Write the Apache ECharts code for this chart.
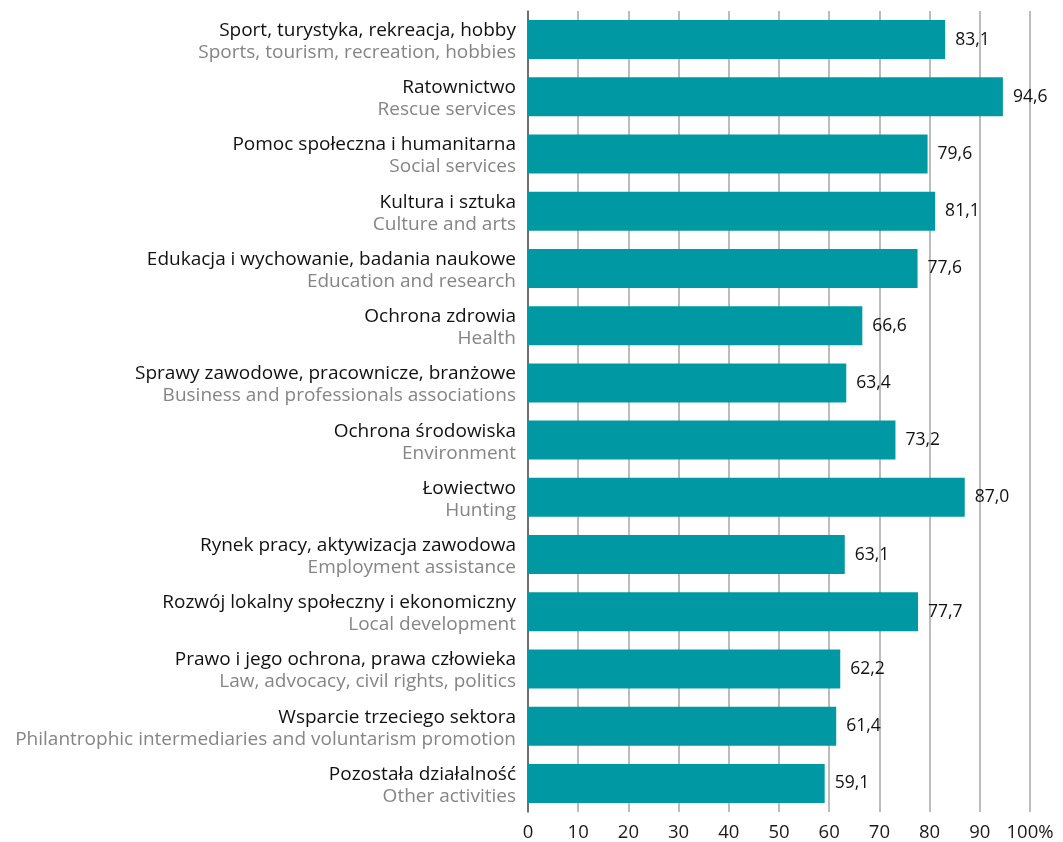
<!DOCTYPE html>
<html>
<head>
<meta charset="utf-8">
<script src="https://cdn.jsdelivr.net/npm/echarts@6/dist/echarts.min.js"></script>
<style>
  html, body { margin: 0; padding: 0; background: #fff; }
  #main { width: 1063px; height: 842px; }
</style>
</head>
<body>
<div id="main"></div>
<script>
// nazwy polskie (górna linia etykiety)
const namesPl = [
  'Sport, turystyka, rekreacja, hobby',
  'Ratownictwo',
  'Pomoc społeczna i humanitarna',
  'Kultura i sztuka',
  'Edukacja i wychowanie, badania naukowe',
  'Ochrona zdrowia',
  'Sprawy zawodowe, pracownicze, branżowe',
  'Ochrona środowiska',
  'Łowiectwo',
  'Rynek pracy, aktywizacja zawodowa',
  'Rozwój lokalny społeczny i ekonomiczny',
  'Prawo i jego ochrona, prawa człowieka',
  'Wsparcie trzeciego sektora',
  'Pozostała działalność'
];
// nazwy angielskie (dolna linia, szara)
const namesEn = [
  'Sports, tourism, recreation, hobbies',
  'Rescue services',
  'Social services',
  'Culture and arts',
  'Education and research',
  'Health',
  'Business and professionals associations',
  'Environment',
  'Hunting',
  'Employment assistance',
  'Local development',
  'Law, advocacy, civil rights, politics',
  'Philantrophic intermediaries and voluntarism promotion',
  'Other activities'
];
const values = [83.1, 94.6, 79.6, 81.1, 77.6, 66.6, 63.4, 73.2, 87.0, 63.1, 77.7, 62.2, 61.4, 59.1];
const xTicks = ['0', '10', '20', '30', '40', '50', '60', '70', '80', '90', '100%'];

const font = '"Open Sans", "Noto Sans", sans-serif';
const chart = echarts.init(document.getElementById('main'));

const option = {
  animation: false,
  grid: { left: 528, right: 33, top: 11, bottom: 29, containLabel: false },
  xAxis: {
    type: 'value',
    min: 0,
    max: 100,
    interval: 10,
    axisLine: { show: false },
    axisTick: { show: false },
    splitLine: { show: true, lineStyle: { color: '#a6a6a6', width: 1.5 } },
    axisLabel: {
      color: '#1a1a1a',
      fontFamily: font,
      fontSize: 18.5,
      margin: 11,
      formatter: (v) => xTicks[Math.round(v / 10)]
    }
  },
  yAxis: {
    type: 'category',
    inverse: true,
    data: namesPl.map((n, i) => i),
    axisLine: { show: true, lineStyle: { color: '#555', width: 1.5 } },
    axisTick: { show: false },
    axisLabel: {
      margin: 12,
      align: 'right',
      padding: [4, 0, 0, 0],
      formatter: (i) => '{pl|' + namesPl[i] + '}\n{en|' + namesEn[i] + '}',
      rich: {
        pl: { color: '#111', fontFamily: font, fontSize: 19, lineHeight: 22, align: 'right' },
        en: { color: '#858585', fontFamily: font, fontSize: 19, lineHeight: 22, align: 'right' }
      }
    }
  },
  series: [{
    type: 'bar',
    data: values,
    barWidth: 39,
    itemStyle: { color: '#0099a3' },
    label: {
      show: true,
      position: 'right',
      distance: 10,
      color: '#111',
      fontFamily: font,
      fontSize: 17.5,
      formatter: (p) => p.value.toFixed(1).replace('.', ',')
    }
  }]
};
chart.setOption(option);
</script>
</body>
</html>
